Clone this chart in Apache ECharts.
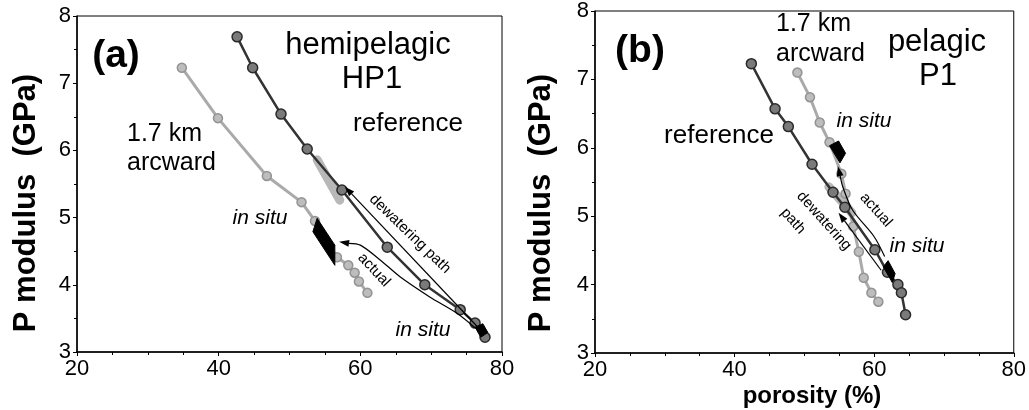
<!DOCTYPE html>
<html>
<head>
<meta charset="utf-8">
<script src="https://cdn.jsdelivr.net/npm/echarts@6/dist/echarts.min.js"></script>
<style>
  html, body { margin: 0; padding: 0; background: #fff; }
  #chart { width: 1029px; height: 410px; }
</style>
</head>
<body>
<div id="chart"></div>
<script>
// axis ticks
const xTicks = [20, 40, 60, 80]
const yTicks = [3, 4, 5, 6, 7, 8]

// (a) hemipelagic HP1  [porosity %, P modulus GPa]
const aReference = [[42.6, 7.69], [44.8, 7.23], [48.8, 6.54], [52.5, 6.02], [57.4, 5.41], [63.8, 4.56], [69.1, 4.0], [74.1, 3.63], [76.2, 3.43], [77.6, 3.22]]
const aArcward = [[34.8, 7.23], [39.9, 6.48], [46.8, 5.62], [51.7, 5.23], [53.6, 4.95], [56.7, 4.41], [58.3, 4.29], [59.2, 4.18], [59.8, 4.05], [61.0, 3.88]]
const aBand = [[53.9, 5.86], [57.1, 5.26]]
const aInSitu = [[53.9, 4.99], [56.4, 4.59], [56.4, 4.29], [53.3, 4.79]]
const aInSituRef = [[76.2, 3.37], [77.3, 3.42], [78.0, 3.29], [77.0, 3.22]]
const aDewatering = [[76.5, 3.38], [57.8, 5.46]]
const aActual = [[76.2, 3.36], [73.6, 3.58], [69.8, 3.82], [65.6, 4.12], [62.8, 4.37], [60.0, 4.59], [57.0, 4.64]]

// (b) pelagic P1
const bReference = [[42.4, 7.23], [45.8, 6.57], [47.7, 6.31], [51.1, 5.76], [54.1, 5.35], [55.8, 5.13], [60.1, 4.51], [61.9, 4.18], [63.4, 4.0], [63.9, 3.88], [64.5, 3.56]]
const bArcward = [[49.0, 7.10], [50.8, 6.74], [52.2, 6.37], [53.6, 6.08], [55.3, 5.62], [55.9, 5.33], [57.0, 4.85], [57.8, 4.48], [58.5, 4.10], [59.6, 3.88], [60.6, 3.75]]
const bBand = [[53.5, 5.43], [56.8, 5.05]]
const bInSitu = [[53.6, 6.03], [54.9, 6.10], [55.9, 5.92], [55.1, 5.78]]
const bInSituRef = [[61.3, 4.26], [62.0, 4.35], [63.0, 4.16], [62.6, 4.03]]
const bDewatering = [[61.0, 4.21], [54.9, 5.05]]
const bActual = [[61.5, 4.41], [60.0, 4.70], [56.9, 5.09], [55.5, 5.43], [54.8, 5.73]]

const FONT = "'Liberation Sans', Arial, Helvetica, sans-serif"

const chart = echarts.init(document.getElementById('chart'))

function xAxis(gridIndex) {
  return {
    type: 'value',
    gridIndex: gridIndex,
    min: xTicks[0],
    max: xTicks[xTicks.length - 1],
    interval: 20,
    axisLine: { lineStyle: { color: '#000', width: 1.5 } },
    axisTick: { show: true, inside: false, length: 4, lineStyle: { color: '#000' } },
    minorTick: { show: true, splitNumber: 4, length: 3, lineStyle: { color: '#000' } },
    axisLabel: { color: '#000', fontSize: 22, fontFamily: FONT, margin: 6 },
    splitLine: { show: false }
  }
}

function yAxis(gridIndex) {
  return {
    type: 'value',
    gridIndex: gridIndex,
    min: yTicks[0],
    max: yTicks[yTicks.length - 1],
    interval: 1,
    axisLine: { lineStyle: { color: '#000', width: 1.5 } },
    axisTick: { show: true, inside: false, length: 4, lineStyle: { color: '#000' } },
    minorTick: { show: true, splitNumber: 2, length: 3, lineStyle: { color: '#000' } },
    axisLabel: { color: '#000', fontSize: 22, fontFamily: FONT, margin: 6 },
    splitLine: { show: false }
  }
}

function refLine(data, idx) {
  return {
    type: 'line', xAxisIndex: idx, yAxisIndex: idx, data: data, z: 4,
    symbol: 'circle', symbolSize: 10,
    lineStyle: { color: '#333', width: 2.5 },
    itemStyle: { color: '#7a7a7a', borderColor: '#2a2a2a', borderWidth: 1.5 }
  }
}

function arcLine(data, idx) {
  return {
    type: 'line', xAxisIndex: idx, yAxisIndex: idx, data: data, z: 3,
    symbol: 'circle', symbolSize: 9,
    lineStyle: { color: '#aaa', width: 3 },
    itemStyle: { color: '#bdbdbd', borderColor: '#939393', borderWidth: 1.5 }
  }
}

function band(data, idx) {
  return {
    type: 'line', xAxisIndex: idx, yAxisIndex: idx, data: data, z: 2,
    symbol: 'none',
    lineStyle: { color: '#b8b8b8', width: 9, cap: 'round' }
  }
}

function polygon(points, idx) {
  return {
    type: 'custom', xAxisIndex: idx, yAxisIndex: idx, data: points, z: 6,
    renderItem(params, api) {
      if (params.dataIndex !== 0) return null
      return {
        type: 'polygon',
        shape: { points: points.map(p => api.coord(p)) },
        style: { fill: '#000', stroke: '#000', lineWidth: 1 }
      }
    }
  }
}

// polyline with an arrowhead at the last point
function arrow(coords, idx) {
  return {
    type: 'custom', xAxisIndex: idx, yAxisIndex: idx, data: coords, z: 7,
    renderItem(params, api) {
      if (params.dataIndex !== 0) return null
      const pts = coords.map(p => api.coord(p))
      const tip = pts[pts.length - 1]
      const prev = pts[pts.length - 2]
      const len = Math.hypot(tip[0] - prev[0], tip[1] - prev[1])
      const ux = (tip[0] - prev[0]) / len
      const uy = (tip[1] - prev[1]) / len
      const hl = 10, hw = 3.5
      const base = [tip[0] - ux * hl, tip[1] - uy * hl]
      return {
        type: 'group',
        children: [
          {
            type: 'polyline',
            shape: { points: pts.slice(0, -1).concat([base]), smooth: 0.3 },
            style: { stroke: '#000', lineWidth: 1.2, fill: null }
          },
          {
            type: 'polygon',
            shape: { points: [tip, [base[0] - uy * hw, base[1] + ux * hw], [base[0] + uy * hw, base[1] - ux * hw]] },
            style: { fill: '#000' }
          }
        ]
      }
    }
  }
}

function label(text, x, y, size, opts) {
  const o = opts || {}
  return {
    type: 'text', x: x, y: y, rotation: (o.rot || 0) * Math.PI / 180, z: 10,
    style: {
      text: text, fill: '#000', fontFamily: FONT, fontSize: size,
      fontWeight: o.bold ? 'bold' : 'normal', fontStyle: o.italic ? 'italic' : 'normal',
      textAlign: o.align || 'center', textVerticalAlign: 'middle'
    }
  }
}

const option = {
  backgroundColor: '#fff',
  animation: false,
  grid: [
    { left: 77, right: 527, top: 16, bottom: 58, show: true, borderColor: '#000', borderWidth: 1, backgroundColor: 'transparent' },
    { left: 595, right: 13, top: 11, bottom: 57, show: true, borderColor: '#000', borderWidth: 1, backgroundColor: 'transparent' }
  ],
  xAxis: [xAxis(0), xAxis(1)],
  yAxis: [yAxis(0), yAxis(1)],
  series: [
    band(aBand, 0),
    arcLine(aArcward, 0),
    refLine(aReference, 0),
    polygon(aInSitu, 0),
    polygon(aInSituRef, 0),
    arrow(aDewatering, 0),
    arrow(aActual, 0),

    band(bBand, 1),
    arcLine(bArcward, 1),
    refLine(bReference, 1),
    polygon(bInSitu, 1),
    polygon(bInSituRef, 1),
    arrow(bDewatering, 1),
    arrow(bActual, 1)
  ],
  graphic: [
    label('P modulus  (GPa)', 26, 203, 31, { bold: true, rot: 90 }),
    label('P modulus  (GPa)', 541, 203, 31, { bold: true, rot: 90 }),
    label('porosity (%)', 812, 396, 24, { bold: true }),

    // (a)
    label('(a)', 116, 56, 39, { bold: true }),
    label('hemipelagic', 368, 45, 31),
    label('HP1', 372, 79, 31),
    label('reference', 408, 124, 26),
    label('1.7 km', 127, 134, 25, { align: 'left' }),
    label('arcward', 127, 163, 25, { align: 'left' }),
    label('in situ', 260, 218, 21, { italic: true }),
    label('in situ', 423, 330, 21, { italic: true }),
    label('dewatering path', 410, 234, 15, { rot: -44 }),
    label('actual', 374, 270, 15, { rot: -47 }),

    // (b)
    label('(b)', 640, 51, 39, { bold: true }),
    label('1.7 km', 776, 24, 25, { align: 'left' }),
    label('arcward', 776, 54, 25, { align: 'left' }),
    label('pelagic', 937, 42, 31),
    label('P1', 938, 76, 31),
    label('reference', 719, 136, 26),
    label('in situ', 864, 121, 21, { italic: true }),
    label('in situ', 917, 246, 21, { italic: true }),
    label('dewatering', 824, 221, 15, { rot: -48 }),
    label('path', 793, 221, 15, { rot: -48 }),
    label('actual', 876, 210, 15, { rot: -48 })
  ]
}

chart.setOption(option)
</script>
</body>
</html>
